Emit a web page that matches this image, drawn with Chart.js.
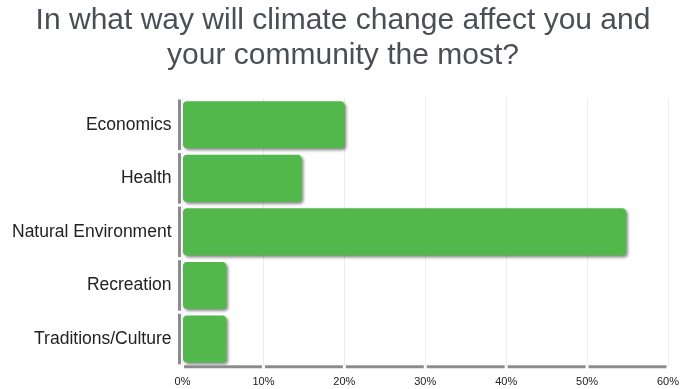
<!DOCTYPE html>
<html>
<head>
<meta charset="utf-8">
<script src="https://cdn.jsdelivr.net/npm/chart.js"></script>
<style>
  html, body { margin: 0; padding: 0; background: #fff; }
  #wrap { width: 696px; height: 389px; }
</style>
</head>
<body>
<div id="wrap"><canvas id="chart"></canvas></div>
<script>
const categories = ['Economics', 'Health', 'Natural Environment', 'Recreation', 'Traditions/Culture'];
const shares = [20, 14.7, 54.8, 5.4, 5.4];
const xTicks = [0, 10, 20, 30, 40, 50, 60];
const titleLines = ['In what way will climate change affect you and', 'your community the most?'];

// title centred on the whole canvas, not on the padded box
const pageTitle = {
    id: 'pageTitle',
    afterDraw(chart) {
        const ctx = chart.ctx;
        ctx.save();
        ctx.fillStyle = '#4a4e55';
        ctx.font = '30px "Liberation Sans", Arial, sans-serif';
        ctx.textAlign = 'center';
        ctx.textBaseline = 'alphabetic';
        titleLines.forEach((line, i) => {
            ctx.fillText(line, chart.width / 2 - 5, 29 + i * 35);
        });
        ctx.restore();
    }
};

// drop shadow under the bars
const barShadow = {
    id: 'barShadow',
    beforeDatasetsDraw(chart) {
        const ctx = chart.ctx;
        ctx.save();
        ctx.shadowColor = 'rgba(0,0,0,0.45)';
        ctx.shadowBlur = 3;
        ctx.shadowOffsetX = 2;
        ctx.shadowOffsetY = 2;
    },
    afterDatasetsDraw(chart) {
        chart.ctx.restore();
    }
};

// broken gray axes: one piece per category on y, gaps at ticks on x
const brokenAxes = {
    id: 'brokenAxes',
    afterDatasetsDraw(chart) {
        const ctx = chart.ctx;
        const x = chart.scales.x, y = chart.scales.y;
        const area = chart.chartArea;
        ctx.save();
        ctx.strokeStyle = '#8c8c8c';
        ctx.lineWidth = 3;
        const n = categories.length;
        const step = (area.bottom - area.top) / n;
        for (let i = 0; i < n; i++) {
            const c = y.getPixelForValue(i);
            ctx.beginPath();
            ctx.moveTo(area.left - 3, c - step / 2 + 1.5);
            ctx.lineTo(area.left - 3, c + step / 2 - 1.5);
            ctx.stroke();
        }
        for (let i = 0; i < xTicks.length - 1; i++) {
            const a = x.getPixelForValue(xTicks[i]);
            const b = x.getPixelForValue(xTicks[i + 1]);
            ctx.beginPath();
            ctx.moveTo(a + 1.5, area.bottom + 1);
            ctx.lineTo(b - 1.5, area.bottom + 1);
            ctx.stroke();
        }
        ctx.restore();
    }
};

new Chart(document.getElementById('chart'), {
    type: 'bar',
    data: {
        labels: categories,
        datasets: [{
            data: shares,
            backgroundColor: '#52b84b',
            borderWidth: 0,
            borderRadius: 4,
            borderSkipped: false,
            barPercentage: 0.88,
            categoryPercentage: 1
        }]
    },
    options: {
        indexAxis: 'y',
        responsive: true,
        maintainAspectRatio: false,
        animation: false,
        layout: { padding: { left: 1, right: 28, top: 98, bottom: -10 } },
        plugins: {
            legend: { display: false },
            tooltip: { enabled: false },
            title: { display: false }
        },
        scales: {
            x: {
                min: 0,
                max: 60,
                afterBuildTicks(scale) { scale.ticks = xTicks.map(v => ({ value: v })); },
                ticks: {
                    callback: v => v + '%',
                    color: '#222',
                    font: { family: 'Liberation Sans, Arial, sans-serif', size: 11 },
                    padding: 10,
                    maxRotation: 0
                },
                grid: { color: '#e8eef4', lineWidth: 1, drawTicks: false },
                border: { display: false }
            },
            y: {
                ticks: {
                    color: '#222',
                    font: { family: 'Liberation Sans, Arial, sans-serif', size: 17.5 },
                    padding: 11
                },
                grid: { display: false, drawTicks: false },
                border: { display: false }
            }
        }
    },
    plugins: [pageTitle, barShadow, brokenAxes]
});
</script>
</body>
</html>
